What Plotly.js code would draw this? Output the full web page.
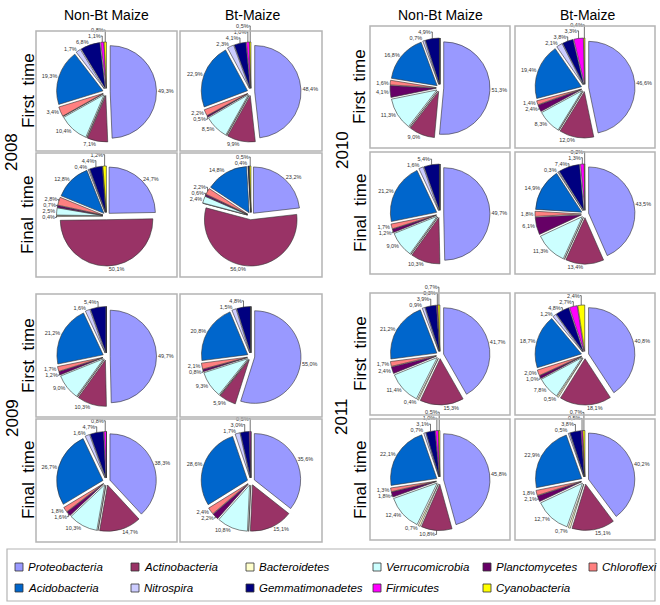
<!DOCTYPE html>
<html>
<head>
<meta charset="utf-8">
<script src="https://cdn.plot.ly/plotly-3.0.1.min.js"></script>
<style>html,body{margin:0;padding:0;background:#fff;}#chart{width:660px;height:605px;}</style>
</head>
<body>
<div id="chart"></div>
<script>
// ---------- DATA ----------
const categories = ['Proteobacteria','Actinobacteria','Bacteroidetes','Verrucomicrobia','Planctomycetes','Chloroflexi','Acidobacteria','Nitrospira','Gemmatimonadetes','Firmicutes','Cyanobacteria'];
const colors = ['#9999FF','#993366','#FFFFCC','#CCFFFF','#660066','#FF8080','#0066CC','#CCCCFF','#000080','#FF00FF','#FFFF00'];

const columnTitles = ['Non-Bt Maize','Bt-Maize'];
const years = ['2008','2009','2010','2011'];
const times = ['First  time','Final  time'];

// values per panel (order = categories)
const y2008_NonBt_First = [49.3, 7.1, 0, 10.4, 0, 3.4, 19.3, 1.7, 6.8, 1.1, 0.8];
const y2008_Bt_First    = [48.4, 9.9, 0, 8.5, 0.5, 2.2, 22.9, 2.3, 4.1, 1.0, 0.5];
const y2008_NonBt_Final = [24.7, 50.1, 0.4, 2.5, 0.7, 2.8, 12.8, 0.4, 4.4, 0, 1.2];
const y2008_Bt_Final    = [23.2, 56.0, 0, 2.4, 0.6, 2.2, 14.8, 0, 0.4, 0, 0.5];
const y2009_NonBt_First = [49.7, 10.3, 0, 9.0, 1.2, 1.7, 21.2, 1.6, 5.4, 0, 0];
const y2009_Bt_First    = [55.0, 5.9, 0, 9.3, 0.8, 2.1, 20.8, 1.5, 4.8, 0, 0];
const y2009_NonBt_Final = [38.3, 14.7, 0, 10.3, 1.6, 1.8, 26.7, 1.6, 4.7, 0.8, 0];
const y2009_Bt_Final    = [35.6, 15.1, 0, 10.8, 2.2, 2.4, 28.6, 1.7, 3.0, 0.5, 0];
const y2010_NonBt_First = [51.3, 9.0, 0, 11.3, 4.1, 1.6, 16.8, 0.7, 4.9, 0, 0];
const y2010_Bt_First    = [46.6, 12.0, 0, 8.3, 2.4, 1.4, 19.4, 2.1, 3.8, 3.3, 0.4];
const y2010_NonBt_Final = [49.7, 10.3, 0, 9.0, 1.2, 1.7, 21.2, 1.6, 5.4, 0, 0];
const y2010_Bt_Final    = [43.5, 13.4, 0, 11.3, 6.1, 1.8, 14.9, 0.3, 7.4, 1.3, 0.2];
const y2011_NonBt_First = [41.7, 15.3, 0.4, 11.4, 2.4, 1.7, 21.2, 0.9, 3.9, 0.3, 0.7];
const y2011_Bt_First    = [40.8, 18.1, 0.5, 7.8, 1.0, 2.0, 18.7, 1.2, 4.8, 2.7, 2.4];
const y2011_NonBt_Final = [45.8, 10.8, 0.7, 12.4, 1.8, 1.3, 22.1, 0.7, 3.1, 1.0, 0.5];
const y2011_Bt_Final    = [40.2, 15.1, 0.7, 12.7, 2.1, 1.8, 22.9, 0.5, 3.8, 0.5, 0.7];

// ---------- LAYOUT (pixel boxes: x0,x1,y0,y1) ----------
const W = 660, H = 605;
const px = x => x / W, py = y => 1 - y / H;
const panels = [
  {v: y2008_NonBt_First, box: [36,177,31,151]},
  {v: y2008_Bt_First,    box: [180,322,31,151]},
  {v: y2008_NonBt_Final, box: [36,177,153,277]},
  {v: y2008_Bt_Final,    box: [180,322,153,277]},
  {v: y2009_NonBt_First, box: [36,177,294,417]},
  {v: y2009_Bt_First,    box: [180,322,294,417]},
  {v: y2009_NonBt_Final, box: [36,177,419,542]},
  {v: y2009_Bt_Final,    box: [180,322,419,542]},
  {v: y2010_NonBt_First, box: [370,510,26,148]},
  {v: y2010_Bt_First,    box: [515,655,26,148]},
  {v: y2010_NonBt_Final, box: [370,510,152,274]},
  {v: y2010_Bt_Final,    box: [515,655,152,274]},
  {v: y2011_NonBt_First, box: [370,510,293,415]},
  {v: y2011_Bt_First,    box: [515,655,293,415]},
  {v: y2011_NonBt_Final, box: [370,510,419,540]},
  {v: y2011_Bt_Final,    box: [515,655,419,540]}
];

const fmt = v => v > 0 ? v.toFixed(1).replace('.', ',') + '%' : '';
const HALF = 50;
const traces = [];
const shapes = [];
panels.forEach(p => {
  const [x0,x1,y0,y1] = p.box;
  const cx = (x0 + x1) / 2, cy = (y0 + y1) / 2 + 1;
  shapes.push({type:'rect', xref:'paper', yref:'paper', x0:px(x0), x1:px(x1), y0:py(y1), y1:py(y0),
               line:{color:'#b4b4b4', width:1.5}, fillcolor:'rgba(0,0,0,0)'});
  traces.push({
    type:'pie', labels: categories, values: p.v,
    text: p.v.map(fmt), textinfo:'text', textposition:'outside',
    textfont:{family:'Liberation Sans, Arial', size:5.5, color:'#333'},
    sort:false, direction:'clockwise', rotation:0,
    pull: p.v.map(() => 0.08),
    marker:{colors: colors, line:{color:'#333', width:0.6}},
    domain:{x:[px(cx-HALF), px(cx+HALF)], y:[py(cy+HALF), py(cy-HALF)]},
    hoverinfo:'none', showlegend:false, automargin:false
  });
});

const annotations = [];
const big = {family:'Liberation Sans, Arial', size:14, color:'#000'};
const side = {family:'Liberation Sans, Arial', size:17, color:'#000'};
// column headers
[[106,252],[440,587]].forEach(cols => {
  cols.forEach((x,i) => annotations.push({xref:'paper', yref:'paper', x:px(x), y:py(15), text:columnTitles[i], showarrow:false, font:big, xanchor:'center', yanchor:'middle'}));
});
// year and time labels
const yearPos = [[12,152],[12,418],[342,150],[342,417]];
const timePos = [[[28,91],[28,215]],[[28,356],[28,480]],[[360,87],[360,213]],[[360,354],[360,480]]];
years.forEach((yr,i) => {
  annotations.push({xref:'paper', yref:'paper', x:px(yearPos[i][0]), y:py(yearPos[i][1]), text:yr, textangle:-90, showarrow:false, font:side, xanchor:'center', yanchor:'middle'});
  timePos[i].forEach((tp,j) => annotations.push({xref:'paper', yref:'paper', x:px(tp[0]), y:py(tp[1]), text:times[j], textangle:-90, showarrow:false, font:side, xanchor:'center', yanchor:'middle'}));
});

// manual legend
shapes.push({type:'rect', xref:'paper', yref:'paper', x0:px(7), x1:px(655), y0:py(601), y1:py(549), line:{color:'#b4b4b4', width:1.2}, fillcolor:'rgba(0,0,0,0)'});
const legCols = [19,135,250,377,487,593];
const legRows = [567,588];
categories.forEach((c,i) => {
  const row = i < 6 ? 0 : 1, col = i < 6 ? i : i - 6;
  const lx = legCols[col], ly = legRows[row];
  shapes.push({type:'rect', xref:'paper', yref:'paper', x0:px(lx-4), x1:px(lx+4), y0:py(ly+4), y1:py(ly-4), line:{color:'#333', width:0.8}, fillcolor:colors[i]});
  annotations.push({xref:'paper', yref:'paper', x:px(lx+7), y:py(ly), text:c, showarrow:false, xanchor:'left', yanchor:'middle',
    font:{family:'Liberation Sans, Arial', size:11.5, color:'#000', style:'italic'}});
});

Plotly.newPlot('chart', traces, {
  width:W, height:H, margin:{l:0,r:0,t:0,b:0},
  paper_bgcolor:'#fff', plot_bgcolor:'#fff',
  showlegend:false, shapes:shapes, annotations:annotations
}, {staticPlot:true});
</script>
</body>
</html>
